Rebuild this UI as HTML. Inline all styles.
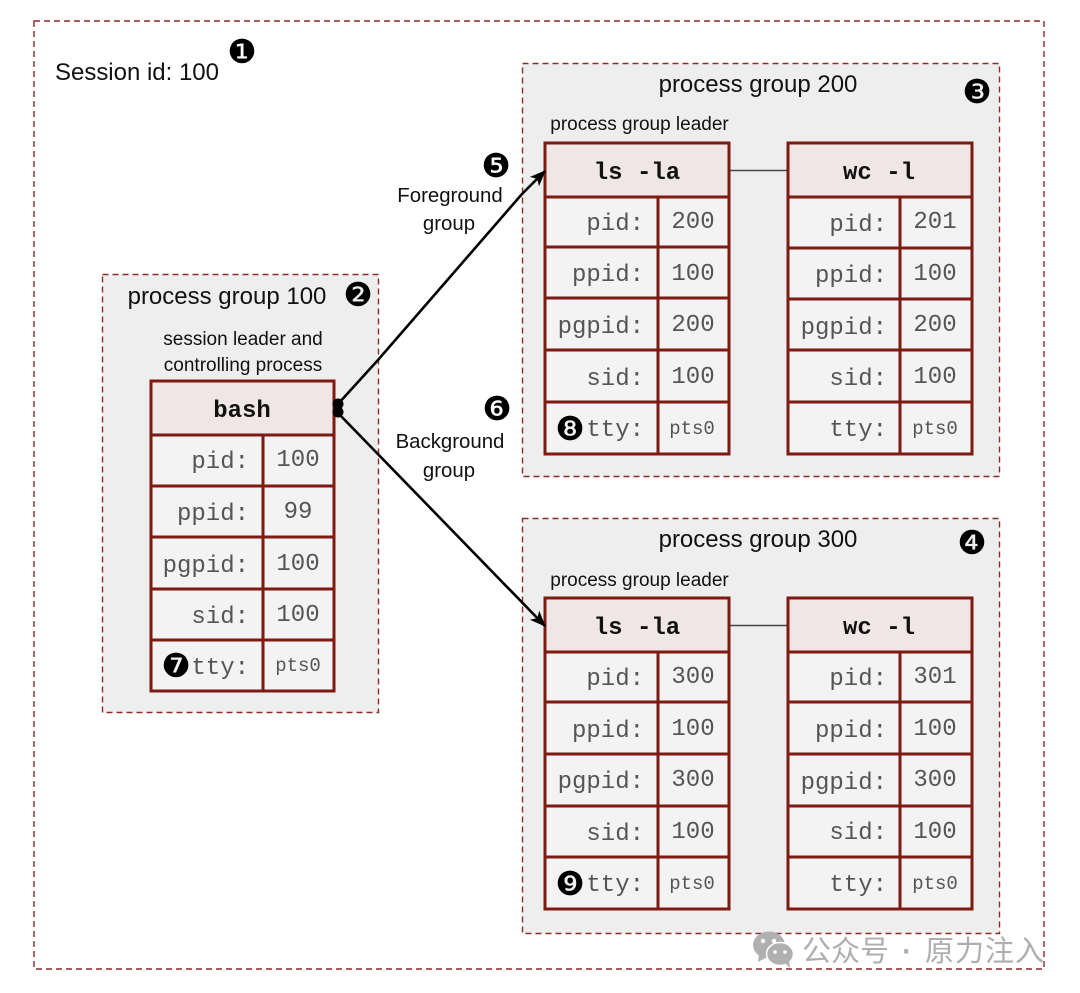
<!DOCTYPE html>
<html><head><meta charset="utf-8">
<style>
html,body{margin:0;padding:0;background:#fff;width:1080px;height:993px;overflow:hidden}
svg{display:block}
text{white-space:pre}
.s{font-family:"Liberation Sans",sans-serif;fill:#111}
.t24{font-size:24px}
.t18{font-size:19px}
.t20{font-size:20.4px}
.m{font-family:"Liberation Mono",monospace;font-size:24px;fill:#555;transform:translate(-1px,-2px)}
.r{text-anchor:end}
.c{text-anchor:middle}
.p{font-size:19px}
.h{font-family:"Liberation Mono",monospace;font-size:24px;font-weight:bold;fill:#111;text-anchor:middle}
.n{font-family:"DejaVu Sans",sans-serif;font-size:33px;fill:#000;text-anchor:middle}
.box{stroke:#8a2c28;stroke-width:1.4;stroke-dasharray:6 4}
.tb{fill:#f3f3f3;stroke:#7d1a12;stroke-width:3}
.hd{fill:#f0e6e5;stroke:#7d1a12;stroke-width:3}
.ln{stroke:#7d1a12;stroke-width:3;fill:none}
</style></head><body>
<svg width="1080" height="993" viewBox="0 0 1080 993" xmlns="http://www.w3.org/2000/svg">
<defs>
<marker id="a" markerWidth="16" markerHeight="14" refX="15" refY="6.500" orient="auto" markerUnits="userSpaceOnUse"><path d="M0 0L16 6.500L0 13L4 6.500Z" fill="#000"/></marker>
</defs>
<rect x="34" y="21" width="1010" height="948" fill="#fff" class="box"/>
<rect x="102.500" y="274.500" width="276" height="438" fill="#eee" class="box"/>
<rect x="522.500" y="63.500" width="477" height="413" fill="#eee" class="box"/>
<rect x="522.500" y="518.500" width="477" height="415" fill="#eee" class="box"/>

<text x="55" y="80" class="s t24" textLength="164">Session id: 100</text>
<text x="242" y="63" class="n">❶</text>
<text x="358" y="306" class="n">❷</text>
<text x="227" y="304" class="s t24 c">process group 100</text>
<text x="243" y="345" class="s t18 c">session leader and</text>
<text x="243" y="371" class="s t18 c">controlling process</text>
<text x="758" y="92" class="s t24 c">process group 200</text>
<text x="977" y="103" class="n">❸</text>
<text x="639.500" y="130" class="s t18 c">process group leader</text>
<text x="758" y="547" class="s t24 c">process group 300</text>
<text x="972" y="554" class="n">❹</text>
<text x="639.500" y="586" class="s t18 c">process group leader</text>
<text x="496" y="177" class="n">❺</text>
<text x="450" y="202" class="s t20 c">Foreground</text>
<text x="449" y="230" class="s t20 c">group</text>
<text x="497" y="420" class="n">❻</text>
<text x="450" y="448" class="s t20 c">Background</text>
<text x="449" y="477" class="s t20 c">group</text>

<line x1="729" y1="170.500" x2="788" y2="170.500" stroke="#444" stroke-width="1.400"/>
<line x1="729" y1="625.500" x2="788" y2="625.500" stroke="#444" stroke-width="1.400"/>

<!-- bash -->
<rect x="151" y="381" width="183" height="310" class="tb"/>
<rect x="151" y="381" width="183" height="54" class="hd"/>
<path d="M151 486H334M151 537H334M151 589H334M151 640H334M263 435V691" class="ln"/>
<text x="242" y="417" class="h">bash</text>
<text x="250" y="470" class="m r">pid:</text><text x="299" y="468" class="m c">100</text>
<text x="250" y="522" class="m r">ppid:</text><text x="299" y="520" class="m c">99</text>
<text x="250" y="574" class="m r">pgpid:</text><text x="299" y="572" class="m c">100</text>
<text x="250" y="625" class="m r">sid:</text><text x="299" y="623" class="m c">100</text>
<text x="250" y="676" class="m r">tty:</text><text x="299" y="673" class="m c p">pts0</text>
<text x="176" y="677" class="n">❼</text>

<!-- ls 200 -->
<rect x="545" y="143" width="184" height="311" class="tb"/>
<rect x="545" y="143" width="184" height="54" class="hd"/>
<path d="M545 247H729M545 298H729M545 350H729M545 402H729M658 197V454" class="ln"/>
<text x="637" y="179" class="h">ls -la</text>
<text x="645" y="232" class="m r">pid:</text><text x="694" y="230" class="m c">200</text>
<text x="645" y="283" class="m r">ppid:</text><text x="694" y="282" class="m c">100</text>
<text x="645" y="335" class="m r">pgpid:</text><text x="694" y="333" class="m c">200</text>
<text x="645" y="387" class="m r">sid:</text><text x="694" y="385" class="m c">100</text>
<text x="645" y="438" class="m r">tty:</text><text x="693" y="436" class="m c p">pts0</text>
<text x="570" y="440" class="n">❽</text>

<!-- wc 200 -->
<rect x="788" y="143" width="184" height="311" class="tb"/>
<rect x="788" y="143" width="184" height="54" class="hd"/>
<path d="M788 248H972M788 299H972M788 350H972M788 402H972M900 197V454" class="ln"/>
<text x="879" y="179" class="h">wc -l</text>
<text x="888" y="233" class="m r">pid:</text><text x="936" y="230" class="m c">201</text>
<text x="888" y="284" class="m r">ppid:</text><text x="936" y="282" class="m c">100</text>
<text x="888" y="336" class="m r">pgpid:</text><text x="936" y="333" class="m c">200</text>
<text x="888" y="387" class="m r">sid:</text><text x="936" y="385" class="m c">100</text>
<text x="888" y="438" class="m r">tty:</text><text x="936" y="436" class="m c p">pts0</text>

<!-- ls 300 -->
<rect x="545" y="598" width="184" height="311" class="tb"/>
<rect x="545" y="598" width="184" height="54" class="hd"/>
<path d="M545 702H729M545 754H729M545 806H729M545 857H729M658 652V909" class="ln"/>
<text x="637" y="634" class="h">ls -la</text>
<text x="645" y="687" class="m r">pid:</text><text x="694" y="685" class="m c">300</text>
<text x="645" y="739" class="m r">ppid:</text><text x="694" y="737" class="m c">100</text>
<text x="645" y="790" class="m r">pgpid:</text><text x="694" y="788" class="m c">300</text>
<text x="645" y="842" class="m r">sid:</text><text x="694" y="840" class="m c">100</text>
<text x="645" y="893" class="m r">tty:</text><text x="693" y="891" class="m c p">pts0</text>
<text x="570" y="895" class="n">❾</text>

<!-- wc 300 -->
<rect x="788" y="598" width="184" height="311" class="tb"/>
<rect x="788" y="598" width="184" height="54" class="hd"/>
<path d="M788 702H972M788 754H972M788 806H972M788 857H972M900 652V909" class="ln"/>
<text x="879" y="634" class="h">wc -l</text>
<text x="888" y="687" class="m r">pid:</text><text x="936" y="685" class="m c">301</text>
<text x="888" y="739" class="m r">ppid:</text><text x="936" y="737" class="m c">100</text>
<text x="888" y="791" class="m r">pgpid:</text><text x="936" y="788" class="m c">300</text>
<text x="888" y="841" class="m r">sid:</text><text x="936" y="840" class="m c">100</text>
<text x="888" y="893" class="m r">tty:</text><text x="936" y="891" class="m c p">pts0</text>

<!-- connectors -->
<path d="M338 404L378 360L522 194L545 171" fill="none" stroke="#000" stroke-width="2.600" marker-end="url(#a)"/>
<line x1="338" y1="413" x2="545" y2="626" stroke="#000" stroke-width="2.600" marker-end="url(#a)"/>
<circle cx="338" cy="404" r="5.500" fill="#000"/>
<circle cx="338" cy="412" r="5.500" fill="#000"/>

<!-- watermark -->
<g fill="#b0b0b0">
<ellipse cx="769" cy="945" rx="16" ry="13.500"/>
<path d="M759 954l-1 8 9-5z"/>
<ellipse cx="780" cy="954" rx="13.500" ry="11.500" stroke="#fff" stroke-width="1.500"/>
<path d="M785 963l5 5-1-8z"/>
</g>
<g fill="#fff"><circle cx="763" cy="941" r="2.200"/><circle cx="774" cy="941" r="2.200"/><circle cx="775" cy="952" r="1.800"/><circle cx="785" cy="952" r="1.800"/></g>
<g font-family="'Liberation Sans','Noto Sans CJK SC',sans-serif" font-size="29" fill="#aeaeae">
<text x="802" y="961">公众号</text>
<text x="907" y="961" class="c" font-weight="bold">·</text>
<text x="925" y="961" textLength="119">原力注入</text>
</g>
</svg>
</body></html>
